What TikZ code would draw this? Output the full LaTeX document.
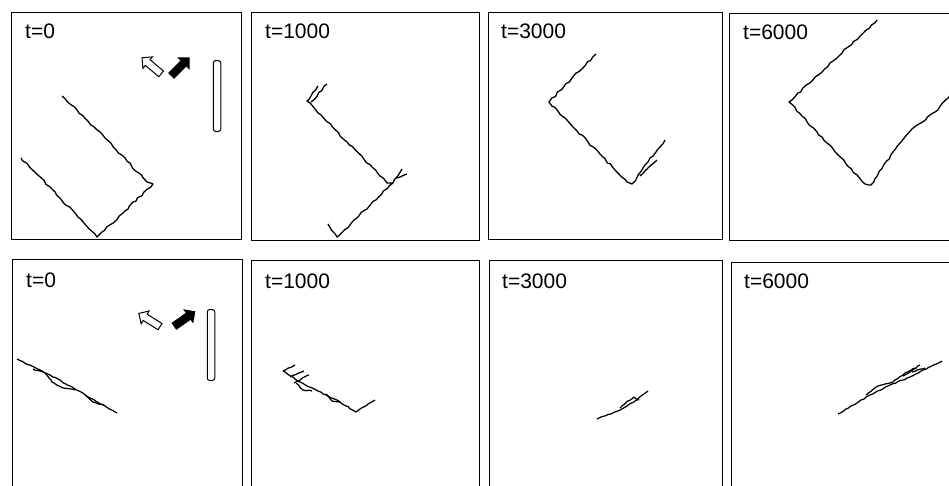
\documentclass[tikz,border=0pt]{standalone}
\usepackage{fontspec}
\setsansfont{Liberation Sans}
\usetikzlibrary{positioning,shapes.arrows,decorations.pathmorphing}

\begin{document}
\pgfmathsetseed{7}
\begin{tikzpicture}[
  x=1pt, y=-1pt,
  panel/.style  ={draw, line width=1.4pt, anchor=north west, inner sep=0pt, minimum width=230pt, minimum height=227pt},
  tlabel/.style ={anchor=base west, inner sep=0pt, font=\sffamily\fontsize{21}{21}\selectfont},
  traj/.style   ={line width=1.3pt, line join=round, decorate, decoration={random steps, segment length=4pt, amplitude=0.9pt}},
  ftraj/.style  ={line width=1.25pt, line join=round, decorate, decoration={random steps, segment length=3pt, amplitude=0.5pt}},
  openarr/.style={single arrow, draw, line width=1pt, fill=white, inner sep=3.2pt, single arrow head extend=3.8pt, minimum height=25pt},
  fullarr/.style={openarr, fill=black},
  wallbar/.style={draw, line width=1pt, rounded corners=2.5pt, inner sep=0pt, minimum width=7.5pt, minimum height=71pt}
]
\useasboundingbox (0,0) rectangle (949,485);
\clip (0,0) rectangle (949,485);

% top row
\node[panel] (p1) at (11,12) {};
\node[panel, minimum width=228pt, minimum height=228pt] (p2) at (251,12) {};
\node[panel, minimum width=234pt] (p3) at (488,12) {};
\node[panel, minimum width=240pt] (p4) at (729,13) {};
\node[tlabel] (l1) at ([shift={(14,26)}]p1.north west) {t=0};
\node[tlabel] (l2) at ([shift={(14,26)}]p2.north west) {t=1000};
\node[tlabel] (l3) at ([shift={(13,26)}]p3.north west) {t=3000};
\node[tlabel] (l4) at ([shift={(14,26)}]p4.north west) {t=6000};

\node[openarr, rotate=140] (o1) at (153,67) {};
\node[fullarr, rotate=45]  (f1) at (179,68) {};
\node[wallbar] (w1) at (217,96) {};

\draw[traj] (62,96) -- (105,138) -- (147,182) -- (153,184) -- (125,211) -- (97,237) -- (60,198) -- (21,158);
\draw[traj] (318,86) -- (307,101) -- (347,142) -- (387,183) -- (393,183) -- (365,210) -- (337,237) -- (328,224);
\draw[traj] (327,84) -- (311,102);
\draw[traj] (393,183) -- (402,169);
\draw[traj] (396,178) -- (407,174);
\draw[traj] (596,54) -- (572,78) -- (549,102) -- (588,142) -- (627,182) -- (632,184) -- (648,162) -- (665,140);
\draw[traj] (640,176) -- (648,168) -- (657,160);
\draw[traj] (877,20) -- (833,61) -- (789,102) -- (827,143) -- (865,184) -- (871,185) -- (893,152) -- (912,129) -- (935,112) -- (955,90);

% bottom row
\node[panel, minimum width=230pt, minimum height=240pt] (p5) at (12,259) {};
\node[panel, minimum width=228pt, minimum height=240pt] (p6) at (251,260) {};
\node[panel, minimum width=233pt, minimum height=240pt] (p7) at (489,260) {};
\node[panel, minimum width=240pt, minimum height=240pt] (p8) at (731,262) {};
\node[tlabel] (l5) at ([shift={(14,28)}]p5.north west) {t=0};
\node[tlabel] (l6) at ([shift={(14,28)}]p6.north west) {t=1000};
\node[tlabel] (l7) at ([shift={(13,28)}]p7.north west) {t=3000};
\node[tlabel] (l8) at ([shift={(13,26)}]p8.north west) {t=6000};

\node[openarr, rotate=148] (o5) at (151,321) {};
\node[fullarr, rotate=35]  (f5) at (183,320) {};
\node[wallbar] (w5) at (211,345) {};

\draw[ftraj] (17,359) -- (50,375) -- (75,389) -- (117,413);
\draw[ftraj] (33,369) -- (45,373) -- (52,382) -- (63,388) -- (75,390);
\draw[ftraj] (86,396) -- (93,402) -- (104,405);
\draw[ftraj] (283,371) -- (300,382) -- (318,391) -- (340,402) -- (356,412) -- (368,404) -- (375,400);
\draw[ftraj] (283,371) -- (295,365);
\draw[ftraj] (290,377) -- (304,371);
\draw[ftraj] (294,383) -- (309,375);
\draw[ftraj] (296,383) -- (303,390) -- (312,391);
\draw[ftraj] (326,394) -- (332,401) -- (340,402);
\draw[ftraj] (597,419) -- (620,410) -- (635,401) -- (648,391);
\draw[ftraj] (620,408) -- (628,401) -- (634,397) -- (639,400);
\draw[ftraj] (838,414) -- (870,395) -- (890,385) -- (910,377) -- (942,361);
\draw[ftraj] (866,395) -- (878,386) -- (893,382) -- (905,373) -- (915,368);
\draw[ftraj] (903,376) -- (920,365);
\draw[ftraj] (912,372) -- (925,368);
\end{tikzpicture}
\end{document}
